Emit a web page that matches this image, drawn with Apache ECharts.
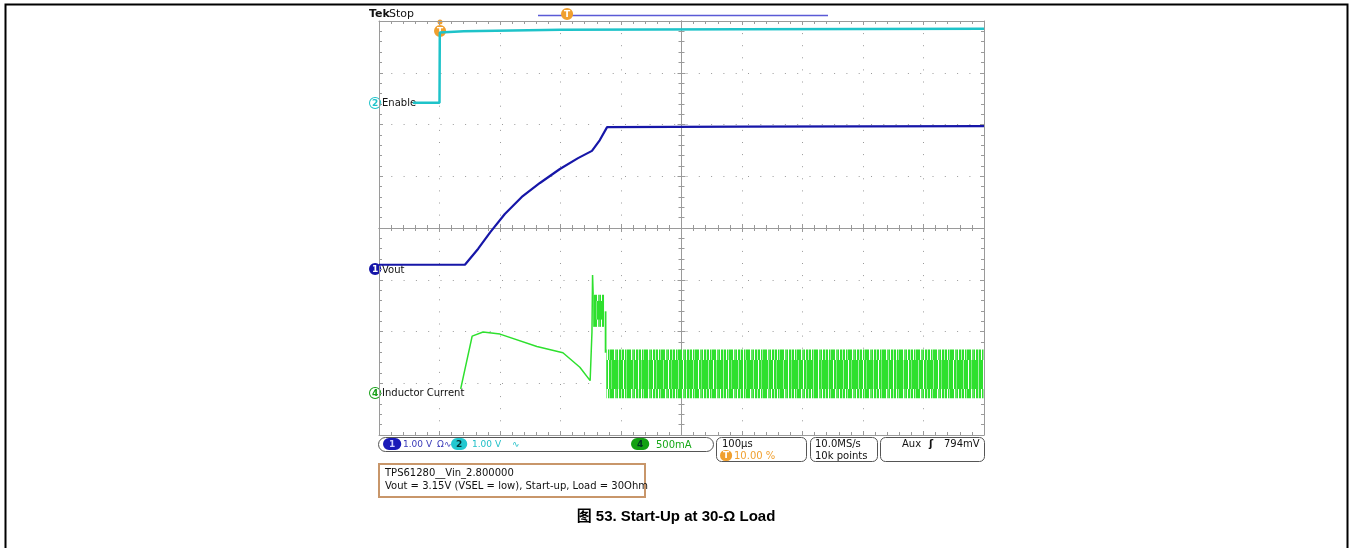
<!DOCTYPE html>
<html>
<head>
<meta charset="utf-8">
<title>Start-Up at 30-Ω Load</title>
<script src="https://cdn.jsdelivr.net/npm/echarts@6/dist/echarts.min.js"></script>
<style>
  html, body { margin: 0; padding: 0; background: #fff; }
  #main { width: 1351px; height: 548px; }
</style>
</head>
<body>
<div id="main"></div>
<script>
// ---------------- 波形数据 (时间 µs，相对触发点) ----------------
var enableT = [-44, 0, 0.5, 3, 40, 200, 500, 900];
var enableV = [0.04, 0.04, 1.40, 1.40, 1.42, 1.45, 1.46, 1.47];

var voutT = [-100, 42, 64, 84, 108, 136, 166, 199, 229, 252, 265, 277, 500, 900];
var voutV = [0.10, 0.10, 0.41, 0.73, 1.08, 1.41, 1.68, 1.95, 2.16, 2.30, 2.51, 2.76, 2.77, 2.78];

var ilT = [35, 54, 72, 100, 161, 204, 232, 249, 252, 253, 254];
var ilA = [0.05, 0.56, 0.60, 0.58, 0.46, 0.40, 0.26, 0.13, 0.60, 1.15, 0.96];

// 开关噪声包络 [t0, t1, 下限A, 上限A]
var ilOuter = [[254, 272, 0.65, 0.96], [272, 276, 0.40, 0.80], [276, 900, -0.04, 0.43]];
var ilInner = [[256, 270, 0.72, 0.90], [276, 900, 0.05, 0.33]];

// 通道设置：每格数值 与 零点位置(格)
var CH_EN = { scale: 1.0, pos: 2.38 };
var CH_VO = { scale: 1.0, pos: -0.81 };
var CH_IL = { scale: 0.5, pos: -3.21 };

var TEAL = '#1ec3c9', BLUE = '#1616a8', GREEN = '#2ee02e', ORANGE = '#f0a030';
var GRIDC = '#9a9a9a';

function toDiv(ch, v) { return v / ch.scale + ch.pos; }
function pairs(ch, ts, vs) {
  var out = [];
  for (var i = 0; i < ts.length; i++) out.push([ts[i], toDiv(ch, vs[i])]);
  return out;
}
function bands(ch, list) {
  return list.map(function (b) { return [b[0], b[1], toDiv(ch, b[2]), toDiv(ch, b[3])]; });
}

// 竖条纹填充，模拟开关纹波的密集尖峰
function stripes(cols) {
  var c = document.createElement('canvas');
  var w = 0;
  cols.forEach(function (p) { w += p[0]; });
  c.width = w; c.height = 4;
  var ctx = c.getContext('2d'), x = 0;
  cols.forEach(function (p) {
    ctx.fillStyle = p[1];
    ctx.fillRect(x, 0, p[0], 4);
    x += p[0];
  });
  return { image: c, repeat: 'repeat' };
}
var outerFill = stripes([[2, GREEN], [1, '#ffffff'], [2, '#5fe55f'], [1, GREEN], [1, '#ffffff'], [2, GREEN], [1, '#bdf5bd'], [2, GREEN], [1, '#ffffff'], [1, GREEN], [1, '#9cef9c'], [2, GREEN]]);
var innerFill = stripes([[3, GREEN], [1, '#a6f0a6'], [4, GREEN], [1, '#ffffff'], [2, GREEN], [1, '#7fe97f'], [3, GREEN]]);

function bandRender(fill) {
  return function (params, api) {
    var a = api.coord([api.value(0), api.value(3)]);
    var b = api.coord([api.value(1), api.value(2)]);
    return { type: 'rect', shape: { x: a[0], y: a[1], width: b[0] - a[0], height: b[1] - a[1] }, style: { fill: fill } };
  };
}

var FONT = 'DejaVu Sans';
function txt(x, y, s, color, size, weight) {
  return { type: 'text', x: x, y: y, style: { text: s, fill: color || '#111', font: (weight || 'normal') + ' ' + (size || 10) + 'px "' + FONT + '"' } };
}
function box(x, y, w, h, r, stroke, lw) {
  return { type: 'rect', shape: { x: x, y: y, width: w, height: h, r: r }, style: { fill: 'none', stroke: stroke, lineWidth: lw || 1 } };
}
function badge(x, y, s, fg, bg, border, pad) {
  return { type: 'text', x: x, y: y, style: { text: s, fill: fg, font: 'bold 9px "' + FONT + '"', backgroundColor: bg, borderColor: border, borderWidth: 1, padding: pad || [1, 3, 0, 3], borderRadius: 5 } };
}

// 坐标轴：边框 + 中心十字 (带小刻度)
var xBase = { type: 'value', min: -100, max: 900, interval: 100, axisLabel: { show: false }, splitLine: { show: false },
  axisLine: { onZero: false, lineStyle: { color: GRIDC, width: 1 } },
  axisTick: { show: true, inside: true, length: 4, lineStyle: { color: GRIDC } },
  minorTick: { show: true, splitNumber: 5, length: 3, lineStyle: { color: GRIDC } } };
var yBase = { type: 'value', min: -4, max: 4, interval: 1, axisLabel: { show: false }, splitLine: { show: false },
  axisLine: { show: true, onZero: false, lineStyle: { color: GRIDC, width: 1 } },
  axisTick: { show: true, inside: true, length: 4, lineStyle: { color: GRIDC } },
  minorTick: { show: true, splitNumber: 5, length: 3, lineStyle: { color: GRIDC } } };
function ext(base, more) { return echarts.util.merge(echarts.util.clone(base), more, true); }

var option = {
  animation: false,
  backgroundColor: '#fff',
  grid: { left: 379, top: 21, width: 605, height: 414, containLabel: false },
  xAxis: [
    ext(xBase, { position: 'bottom', splitLine: { show: true, lineStyle: { color: GRIDC, width: 1, type: [1, 11.1] } } }),
    ext(xBase, { position: 'top' }),
    ext(xBase, { position: 'bottom', offset: -207, axisTick: { inside: true } }),
    ext(xBase, { position: 'bottom', offset: -207, axisTick: { inside: false } })
  ],
  yAxis: [
    ext(yBase, { position: 'left', splitLine: { show: true, lineStyle: { color: GRIDC, width: 1, type: [1, 11.3] } } }),
    ext(yBase, { position: 'right' }),
    ext(yBase, { position: 'left', offset: -302.5, axisTick: { inside: true } }),
    ext(yBase, { position: 'left', offset: -302.5, axisTick: { inside: false } })
  ],
  series: [
    { name: 'Enable', type: 'line', showSymbol: false, data: pairs(CH_EN, enableT, enableV),
      lineStyle: { color: TEAL, width: 2.5 }, z: 5 },
    { name: 'Vout', type: 'line', showSymbol: false, data: pairs(CH_VO, voutT, voutV),
      lineStyle: { color: BLUE, width: 2.2 }, z: 5 },
    { name: 'IL', type: 'line', showSymbol: false, data: pairs(CH_IL, ilT, ilA),
      lineStyle: { color: GREEN, width: 1.5 }, z: 5 },
    { name: 'IL outer', type: 'custom', data: bands(CH_IL, ilOuter), renderItem: bandRender(outerFill),
      encode: { x: [0, 1], y: [2, 3] }, z: 4 },
    { name: 'IL inner', type: 'custom', data: bands(CH_IL, ilInner), renderItem: bandRender(innerFill),
      encode: { x: [0, 1], y: [2, 3] }, z: 4 }
  ],
  graphic: [
    // 外框
    { type: 'rect', shape: { x: 5.5, y: 4.5, width: 1342, height: 560 }, style: { fill: 'none', stroke: '#000', lineWidth: 2 } },
    // 顶部状态
    txt(369, 9, 'Tek', '#111', 11, 'bold'),
    txt(389, 9, 'Stop', '#111', 11),
    { type: 'line', shape: { x1: 538, y1: 15.5, x2: 828, y2: 15.5 }, style: { stroke: '#5a5ad6', lineWidth: 1.5 } },
    badge(562, 9, 'T', '#fff', ORANGE, ORANGE, [1, 2, 0, 2]),
    { type: 'circle', shape: { cx: 440, cy: 22, r: 2.5 }, style: { fill: ORANGE } },
    badge(435, 26, 'T', '#fff', ORANGE, ORANGE, [1, 2, 0, 2]),
    // 通道标记
    badge(370, 98, '2', TEAL, '#fff', TEAL, [1, 2, 0, 2]),
    txt(382, 98, 'Enable', '#111', 10),
    badge(370, 264, '1', '#fff', BLUE, BLUE, [1, 2, 0, 2]),
    txt(382, 265, 'Vout', '#111', 10),
    badge(370, 388, '4', '#18a018', '#fff', '#18a018', [1, 2, 0, 2]),
    txt(382, 388, 'Inductor Current', '#111', 10),
    // 底部设置栏
    box(378.5, 437.5, 335, 14, 7, '#555'),
    badge(384, 439, '1', '#cfd0ff', '#1a1ab8', '#1a1ab8', [1, 5, 0, 5]),
    txt(403, 440, '1.00 V', '#3a3ab8', 9),
    txt(437, 440, 'Ω∿', '#3a3ab8', 9),
    badge(452, 439, '2', '#033', '#22c8d0', '#22c8d0', [1, 4, 0, 4]),
    txt(472, 440, '1.00 V', '#22c0c8', 9),
    txt(512, 440, '∿', '#22c0c8', 9),
    badge(632, 439, '4', '#032', '#12a012', '#12a012', [1, 5, 0, 5]),
    txt(656, 440, '500mA', '#18a818', 10),
    box(716.5, 437.5, 90, 24, 5, '#555'),
    txt(722, 439, '100µs', '#111', 10),
    badge(721, 451, 'T', '#fff', ORANGE, ORANGE, [0, 2, 0, 2]),
    txt(734, 451, '10.00 %', ORANGE, 10),
    box(810.5, 437.5, 67, 24, 5, '#555'),
    txt(815, 439, '10.0MS/s', '#111', 10),
    txt(815, 451, '10k points', '#111', 10),
    box(880.5, 437.5, 104, 24, 5, '#555'),
    txt(902, 439, 'Aux', '#111', 10),
    txt(929, 439, 'ʃ', '#111', 10, 'bold'),
    txt(944, 439, '794mV', '#111', 10),
    // 注释框
    box(379, 464, 266, 33, 0, '#c8966a', 2),
    txt(385, 468, 'TPS61280__Vin_2.800000', '#111', 10),
    txt(385, 481, 'Vout = 3.15V (VSEL = low), Start-up, Load = 30Ohm', '#111', 10),
    // 图题
    { type: 'text', x: 676, y: 509, style: { text: '图 53. Start-Up at 30-Ω Load', fill: '#000', align: 'center',
      font: 'bold 15px "Liberation Sans", "Noto Sans CJK SC", sans-serif' } }
  ]
};

var chart = echarts.init(document.getElementById('main'));
chart.setOption(option);
</script>
</body>
</html>
